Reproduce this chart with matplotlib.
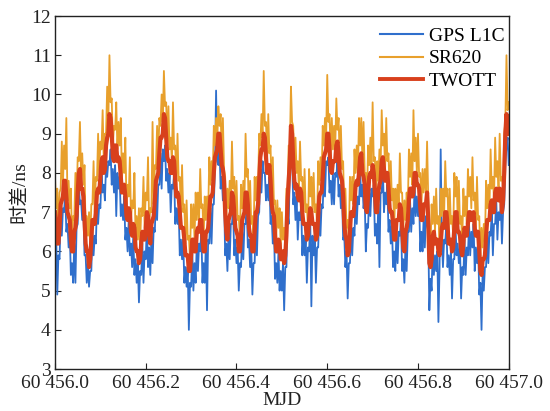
import numpy as np
import matplotlib.pyplot as plt
from matplotlib.ticker import FuncFormatter

# MJD samples, every 0.0025 day
mjd = np.linspace(60456.0, 60457.0, 401)

# TWOTT time difference, ns (20 samples per row)
twott = [
    7.0, 6.8, 6.2, 6.2, 6.6, 7.2, 7.3, 7.4, 7.8, 7.8, 7.4, 7.0, 6.9, 6.8, 6.3, 6.0, 6.0, 6.5, 6.6, 6.9,
    7.5, 8.0, 8.1, 7.6, 7.6, 7.4, 6.8, 6.2, 6.0, 6.0, 5.6, 5.8, 6.3, 6.8, 6.8, 6.7, 7.0, 7.5, 7.6, 7.5,
    7.9, 8.3, 8.4, 8.0, 8.1, 8.7, 8.9, 9.0, 9.5, 9.4, 9.0, 8.4, 8.3, 8.7, 8.7, 8.3, 8.4, 8.3, 7.9, 7.5,
    7.6, 7.7, 7.4, 6.9, 6.8, 7.1, 7.0, 6.5, 6.4, 6.7, 6.6, 6.1, 6.0, 6.0, 5.7, 5.8, 6.2, 6.5, 6.4, 6.3,
    6.6, 7.0, 6.9, 6.4, 6.2, 6.7, 6.8, 6.9, 7.3, 7.8, 7.9, 8.0, 8.5, 8.9, 8.9, 9.0, 9.5, 9.4, 8.9, 8.4,
    8.3, 8.3, 8.0, 8.0, 8.4, 8.3, 7.8, 7.4, 7.5, 7.4, 7.0, 6.6, 6.6, 6.6, 6.3, 5.9, 5.9, 5.9, 5.5, 5.5,
    5.9, 6.3, 6.3, 6.0, 6.0, 6.5, 6.6, 6.5, 6.8, 6.8, 6.3, 6.0, 6.0, 6.5, 6.5, 6.6, 7.0, 7.4, 7.4, 7.5,
    8.0, 8.4, 8.5, 8.6, 9.0, 9.0, 8.6, 8.2, 8.1, 7.8, 7.0, 6.5, 6.3, 6.8, 6.9, 7.0, 7.5, 7.4, 7.0, 6.6,
    6.5, 6.4, 6.0, 6.0, 6.4, 6.8, 6.9, 7.0, 7.5, 7.5, 7.2, 6.6, 6.4, 6.4, 6.0, 6.0, 6.5, 7.0, 7.0, 7.2,
    7.8, 8.4, 8.6, 8.6, 9.0, 8.9, 8.4, 8.0, 8.1, 8.2, 7.8, 7.2, 7.0, 6.9, 6.4, 6.0, 6.0, 6.3, 6.2, 5.8,
    5.8, 6.0, 5.7, 5.9, 6.4, 7.3, 7.8, 8.3, 9.2, 9.0, 8.3, 7.8, 7.6, 7.7, 7.4, 7.3, 7.6, 7.5, 7.0, 6.7,
    6.7, 6.7, 6.3, 6.4, 6.8, 7.1, 7.0, 6.7, 6.7, 6.7, 6.3, 6.4, 6.9, 7.4, 7.5, 7.5, 7.9, 8.4, 8.5, 8.6,
    9.0, 9.0, 8.6, 8.1, 8.0, 8.3, 8.3, 8.3, 8.7, 8.8, 8.5, 8.0, 7.9, 7.8, 7.4, 6.7, 6.4, 6.3, 5.9, 6.0,
    6.5, 7.0, 7.0, 6.9, 7.2, 7.7, 7.8, 7.7, 8.0, 8.4, 8.5, 8.0, 7.9, 7.7, 7.1, 7.0, 7.4, 7.9, 8.0, 7.9,
    8.2, 8.0, 7.5, 7.0, 7.0, 7.5, 7.7, 7.8, 8.3, 8.4, 8.1, 7.8, 8.0, 8.0, 7.6, 7.1, 7.0, 7.0, 6.7, 6.3,
    6.3, 6.8, 6.8, 6.8, 7.2, 7.1, 6.6, 6.1, 6.0, 6.5, 6.6, 6.8, 7.3, 7.6, 7.6, 7.4, 7.5, 8.0, 8.0, 7.7,
    7.7, 7.6, 7.1, 6.8, 6.8, 7.2, 7.2, 7.2, 7.5, 6.8, 5.7, 5.6, 5.8, 6.4, 6.5, 6.2, 6.3, 6.3, 6.0, 5.9,
    6.2, 6.6, 6.7, 6.6, 7.0, 7.0, 6.7, 6.2, 6.2, 6.3, 6.0, 6.1, 6.6, 7.0, 7.0, 6.5, 6.5, 6.4, 6.0, 5.9,
    6.2, 6.6, 6.5, 6.4, 6.7, 7.0, 7.0, 6.8, 6.9, 7.0, 6.6, 6.4, 6.5, 6.5, 6.0, 5.5, 5.4, 5.8, 5.8, 5.9,
    6.4, 6.8, 6.8, 6.8, 7.2, 7.3, 7.0, 7.0, 7.5, 7.6, 7.4, 7.3, 7.6, 7.5, 7.0, 7.3, 8.0, 9.0, 9.5, 9.1,
    9.0,
]

# SR620 counter, ns
sr620 = [
    7.9, 7.1, 7.6, 6.5, 7.5, 7.6, 8.8, 7.7, 8.7, 8.1, 9.4, 7.3, 7.8, 7.1, 7.6, 6.3, 6.9, 6.8, 8.0, 7.2,
    8.4, 8.3, 9.3, 7.9, 8.5, 7.7, 8.2, 6.5, 6.9, 6.4, 7.0, 6.1, 7.2, 7.2, 8.3, 7.0, 7.9, 7.8, 9.0, 7.9,
    8.8, 8.6, 9.6, 8.3, 9.0, 9.0, 10.2, 9.3, 11.0, 9.8, 9.9, 8.7, 9.2, 9.1, 9.8, 8.6, 9.3, 8.7, 9.4, 7.8,
    8.5, 8.0, 8.9, 7.2, 7.7, 7.4, 8.4, 6.8, 7.3, 7.1, 8.0, 6.4, 6.9, 6.3, 7.1, 6.1, 7.1, 6.9, 7.9, 6.6,
    7.5, 7.3, 8.4, 6.7, 7.1, 7.0, 9.3, 7.2, 8.2, 8.1, 9.2, 8.3, 9.4, 9.2, 10.0, 9.3, 10.6, 9.7, 9.8, 8.7,
    9.7, 8.6, 8.9, 8.3, 9.8, 8.6, 8.7, 7.7, 9.0, 7.8, 7.9, 6.9, 8.2, 7.0, 7.2, 6.2, 7.3, 6.3, 6.4, 5.8,
    7.2, 6.6, 7.2, 6.3, 7.5, 6.8, 7.5, 6.8, 8.1, 7.1, 7.2, 6.3, 7.4, 6.8, 7.4, 6.9, 8.4, 7.7, 8.3, 7.8,
    9.2, 8.7, 9.4, 8.8, 9.7, 9.2, 9.5, 8.5, 9.4, 8.1, 7.9, 6.8, 7.6, 7.1, 7.8, 7.3, 8.8, 7.6, 7.9, 6.9,
    7.8, 6.8, 6.9, 6.3, 7.7, 7.1, 7.8, 7.3, 9.0, 7.9, 8.1, 6.9, 7.8, 6.7, 6.9, 6.3, 7.9, 7.3, 7.9, 7.6,
    9.0, 8.7, 9.5, 8.9, 10.6, 9.2, 9.3, 8.3, 9.5, 8.5, 8.7, 7.5, 8.4, 7.2, 7.3, 6.3, 7.3, 6.6, 7.1, 6.1,
    7.0, 6.3, 6.6, 6.2, 7.6, 7.6, 8.7, 8.6, 10.2, 9.3, 9.2, 8.1, 8.9, 8.0, 8.3, 7.6, 8.8, 7.8, 7.9, 7.0,
    8.1, 7.0, 7.2, 6.6, 8.1, 7.4, 7.9, 7.0, 8.0, 7.0, 7.2, 6.7, 8.3, 7.7, 8.4, 7.8, 9.2, 8.7, 9.4, 8.9,
    10.5, 9.3, 9.5, 8.4, 9.4, 8.6, 9.2, 8.6, 9.9, 9.1, 9.4, 8.3, 9.2, 8.1, 8.3, 7.0, 7.6, 6.6, 6.8, 6.3,
    7.9, 7.3, 7.9, 7.2, 8.6, 8.0, 8.7, 8.0, 9.4, 8.7, 9.4, 8.3, 9.3, 8.0, 8.0, 7.3, 8.7, 8.2, 8.9, 8.2,
    9.8, 8.3, 8.4, 7.3, 8.3, 7.8, 8.6, 8.1, 9.6, 8.7, 9.0, 8.1, 9.4, 8.3, 8.5, 7.4, 8.3, 7.3, 7.6, 6.6,
    7.6, 7.1, 7.7, 7.1, 8.5, 7.5, 7.5, 6.5, 7.3, 6.8, 7.5, 7.1, 8.6, 7.9, 8.5, 7.7, 9.6, 8.3, 8.9, 8.0,
    9.0, 7.9, 8.0, 7.1, 8.1, 7.5, 8.1, 7.5, 8.8, 7.4, 6.6, 6.0, 7.2, 6.7, 7.4, 6.5, 7.6, 6.7, 6.9, 6.3,
    7.6, 6.9, 7.6, 6.9, 8.3, 7.4, 7.6, 6.5, 7.6, 6.7, 6.9, 6.4, 8.0, 7.4, 7.9, 6.8, 7.8, 6.7, 6.9, 6.2,
    7.6, 6.9, 7.4, 6.7, 8.1, 7.4, 7.9, 7.1, 8.4, 7.3, 7.5, 6.6, 7.9, 6.8, 6.9, 5.8, 6.6, 6.1, 6.7, 6.2,
    7.8, 7.1, 7.7, 7.1, 8.6, 7.6, 7.9, 7.3, 8.9, 7.9, 8.3, 7.6, 9.0, 7.8, 7.9, 7.6, 9.0, 9.3, 11.0, 9.6,
    9.8,
]

# GPS L1C common view, ns
gps_l1c = [
    6.2, 6.5, 4.9, 5.9, 5.8, 6.9, 6.4, 7.1, 7.0, 7.5, 6.5, 6.7, 6.1, 6.5, 5.4, 5.7, 5.2, 6.2, 5.2, 6.6,
    6.7, 7.7, 7.2, 7.3, 6.8, 7.1, 5.9, 5.9, 5.2, 5.7, 5.1, 5.5, 5.5, 6.5, 5.9, 6.4, 6.2, 7.2, 6.7, 7.2,
    7.1, 8.0, 7.5, 7.7, 7.3, 8.2, 7.9, 8.3, 8.2, 8.6, 7.7, 8.1, 7.5, 8.2, 6.9, 8.0, 7.6, 7.9, 6.9, 7.2,
    6.8, 7.4, 6.3, 6.6, 6.0, 6.8, 5.9, 6.2, 5.6, 6.4, 5.4, 5.8, 5.2, 5.7, 4.7, 5.5, 5.4, 6.2, 5.2, 6.0,
    5.8, 6.7, 5.6, 6.1, 5.4, 6.4, 5.7, 6.6, 6.5, 7.5, 6.8, 7.7, 7.7, 8.5, 7.6, 8.6, 8.3, 8.7, 7.8, 8.1,
    7.5, 8.0, 7.0, 7.7, 7.6, 8.0, 6.7, 7.1, 6.7, 7.1, 5.9, 6.3, 5.8, 6.3, 5.2, 5.6, 5.1, 5.6, 4.0, 5.2,
    5.1, 6.0, 5.0, 5.7, 5.2, 6.2, 5.5, 6.2, 6.0, 6.5, 5.2, 5.7, 5.2, 6.2, 4.5, 6.3, 6.2, 7.1, 6.2, 7.2,
    7.2, 8.1, 10.1, 8.3, 8.2, 8.7, 7.6, 7.9, 7.3, 7.5, 5.9, 6.2, 5.5, 6.5, 5.8, 6.7, 6.7, 7.1, 5.9, 6.3,
    5.7, 6.1, 5.0, 5.7, 5.6, 6.5, 5.8, 6.7, 6.7, 7.2, 6.1, 6.3, 5.6, 6.1, 4.9, 5.7, 5.7, 6.7, 5.9, 6.9,
    7.0, 8.1, 7.5, 8.3, 8.0, 8.0, 7.3, 7.7, 7.3, 7.9, 6.7, 6.9, 6.2, 6.6, 5.3, 5.7, 5.2, 6.0, 5.0, 5.5,
    5.0, 5.7, 4.5, 5.6, 5.6, 7.0, 6.7, 8.0, 8.4, 8.5, 7.2, 7.5, 6.8, 7.4, 6.3, 7.0, 6.8, 7.2, 5.9, 6.4,
    5.9, 6.4, 5.2, 6.1, 6.0, 6.8, 4.6, 6.4, 5.9, 6.4, 5.2, 6.1, 6.1, 7.1, 6.4, 7.2, 7.1, 8.0, 7.4, 8.3,
    8.2, 8.4, 7.5, 7.8, 7.2, 8.0, 7.2, 8.0, 7.9, 8.3, 7.4, 7.7, 7.1, 7.5, 6.3, 6.4, 5.6, 6.0, 4.8, 5.7,
    5.7, 6.7, 5.9, 6.6, 6.4, 7.4, 6.7, 7.4, 7.2, 8.0, 7.4, 7.7, 7.1, 7.4, 6.0, 6.7, 6.6, 7.6, 6.9, 7.6,
    7.4, 7.7, 6.4, 6.7, 6.2, 7.2, 5.6, 7.5, 7.5, 8.1, 7.0, 7.5, 7.2, 7.7, 6.5, 6.8, 6.2, 6.7, 5.6, 6.0,
    5.5, 6.5, 5.7, 6.5, 6.4, 6.8, 5.5, 5.8, 5.2, 6.2, 5.5, 6.5, 6.5, 7.3, 6.5, 7.1, 6.7, 7.7, 6.9, 7.4,
    6.9, 7.3, 6.0, 6.5, 6.0, 6.9, 6.1, 6.9, 6.7, 6.5, 4.5, 5.3, 5.0, 6.1, 5.4, 5.9, 5.5, 6.0, 4.2, 5.6,
    8.6, 6.3, 5.6, 6.3, 6.2, 6.7, 5.6, 5.9, 5.4, 6.0, 4.8, 5.8, 5.8, 6.7, 5.9, 6.2, 5.7, 6.1, 4.8, 5.6,
    5.4, 6.3, 5.4, 6.1, 5.9, 6.7, 5.9, 6.5, 6.1, 6.7, 5.5, 6.1, 5.7, 6.2, 4.9, 5.2, 4.0, 5.5, 5.0, 5.6,
    5.6, 6.5, 5.7, 6.5, 6.4, 7.0, 5.9, 6.7, 6.7, 7.3, 6.3, 7.0, 6.8, 7.2, 6.2, 7.0, 7.2, 8.2, 8.7, 8.9,
    8.2,
]

plt.rcParams['font.family'] = ['Liberation Serif', 'Noto Sans CJK SC']
plt.rcParams['font.size'] = 14

fig = plt.figure(figsize=(5.5, 4.11), dpi=100)
ax = fig.add_axes([0.1, 0.102, 0.825, 0.859])

ax.plot(mjd, gps_l1c, color='#2f6fcc', lw=1.3, label='GPS L1C')
ax.plot(mjd, sr620, color='#e8a02c', lw=1.3, label='SR620')
ax.plot(mjd, twott, color='#d8401c', lw=3.0, label='TWOTT')

ax.set_xlim(60456.0, 60457.0)
ax.set_ylim(3, 12)
ax.set_xticks(np.arange(60456.0, 60457.01, 0.2))
ax.set_yticks(range(3, 13))


def mjd_fmt(v, pos):
    s = f'{v:.1f}'
    return s[:2] + ' ' + s[2:]


ax.xaxis.set_major_formatter(FuncFormatter(mjd_fmt))
ax.tick_params(direction='in', length=4, width=0.8, colors='#222222',
               labelcolor='#222222')
ax.tick_params(axis='x', pad=4)
ax.tick_params(axis='y', pad=3)
for sp in ax.spines.values():
    sp.set_linewidth(1.0)
    sp.set_color('#222222')

ax.set_xlabel('MJD', labelpad=0, color='#222222')
ax.set_ylabel('时差/ns', labelpad=2, color='#222222')

leg = ax.legend(loc='upper right', bbox_to_anchor=(1.007, 0.99),
                frameon=False, handlelength=2.2, handletextpad=0.3,
                labelspacing=0.25, borderaxespad=0.0, fontsize=14)
for line in leg.get_lines():
    line.set_linewidth(1.5 if line.get_label() != 'TWOTT' else 2.8)

fig.savefig('out.png', dpi=100)
